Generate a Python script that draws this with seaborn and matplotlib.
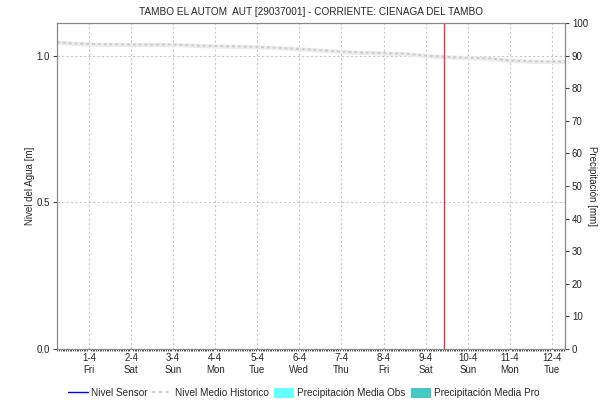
import matplotlib
matplotlib.use("Agg")
import matplotlib.dates as mdates
import matplotlib.pyplot as plt
import pandas as pd
import seaborn as sns
from matplotlib.lines import Line2D
from matplotlib.patches import Patch

sns.set_theme(style="white")
plt.rcParams["font.family"] = ["Liberation Sans", "DejaVu Sans"]

TITLE = "TAMBO EL AUTOM  AUT [29037001] - CORRIENTE: CIENAGA DEL TAMBO"

# historic mean level (m)
hist_time = [
    "2022-03-31 05:45", "2022-03-31 12:00", "2022-04-01 00:00", "2022-04-01 12:00",
    "2022-04-02 00:00", "2022-04-02 12:00", "2022-04-03 00:00", "2022-04-03 12:00",
    "2022-04-04 00:00", "2022-04-04 12:00", "2022-04-05 00:00", "2022-04-05 12:00",
    "2022-04-06 00:00", "2022-04-06 12:00", "2022-04-07 00:00", "2022-04-07 12:00",
    "2022-04-08 00:00", "2022-04-08 12:00", "2022-04-09 00:00", "2022-04-09 12:00",
    "2022-04-10 00:00", "2022-04-10 12:00", "2022-04-11 00:00", "2022-04-11 12:00",
    "2022-04-12 00:00", "2022-04-12 07:30",
]
hist_mean = [
    1.047, 1.044, 1.041, 1.040, 1.039, 1.039, 1.039, 1.036, 1.034, 1.033,
    1.031, 1.028, 1.024, 1.020, 1.015, 1.012, 1.010, 1.008, 1.001, 0.997,
    0.994, 0.992, 0.985, 0.982, 0.981, 0.981,
]
hist_upper = [
    1.055, 1.052, 1.048, 1.047, 1.046, 1.046, 1.046, 1.043, 1.041, 1.040,
    1.038, 1.035, 1.031, 1.027, 1.022, 1.019, 1.017, 1.015, 1.008, 1.004,
    1.001, 0.999, 0.992, 0.989, 0.988, 0.988,
]
hist_lower = [
    1.040, 1.037, 1.034, 1.033, 1.032, 1.032, 1.032, 1.029, 1.027, 1.026,
    1.024, 1.021, 1.017, 1.013, 1.008, 1.005, 1.003, 1.001, 0.994, 0.990,
    0.987, 0.985, 0.978, 0.975, 0.974, 0.974,
]

# sensor level: no data in this period
sensor_time = []
sensor_level = []

now_time = "2022-04-09 10:20"

day_ticks = pd.date_range("2022-04-01", "2022-04-12", freq="D")
day_labels = ["1-4\nFri", "2-4\nSat", "3-4\nSun", "4-4\nMon", "5-4\nTue", "6-4\nWed",
              "7-4\nThu", "8-4\nFri", "9-4\nSat", "10-4\nSun", "11-4\nMon", "12-4\nTue"]

hist = pd.DataFrame({"time": pd.to_datetime(hist_time), "mean": hist_mean,
                     "upper": hist_upper, "lower": hist_lower})

fig = plt.figure(figsize=(6.07, 4.03), dpi=100)
ax = fig.add_axes([57 / 607, 54 / 403, 508 / 607, 326 / 403])
ax2 = ax.twinx()

ax.fill_between(hist["time"], hist["lower"], hist["upper"], color="#ececec", lw=0, zorder=1)
sns.lineplot(data=hist, x="time", y="mean", ax=ax, color="#cccccc", lw=1.4,
             linestyle=(0, (1.5, 1.5)), zorder=2)
ax.plot(pd.to_datetime(sensor_time), sensor_level, color="#0000ff", lw=1)
ax.axvline(pd.Timestamp(now_time), color="#e8383d", lw=1, zorder=3)

ax.set_xlim(pd.Timestamp("2022-03-31 05:45"), pd.Timestamp("2022-04-12 07:30"))
ax.set_ylim(0, 1.1126)
ax.set_yticks([0.0, 0.5, 1.0])
ax.set_yticklabels(["0.0", "0.5", "1.0"])
ax.set_xticks(day_ticks)
ax.set_xticklabels(day_labels)
ax.xaxis.set_minor_locator(mdates.HourLocator())
ax.set_xlabel("")
ax.set_ylabel("Nivel del Agua [m]", fontsize=7)
ax.yaxis.set_label_coords(-22 / 508, 0.5)

ax.grid(True, axis="both", color="#c8c8c8", ls=(0, (2, 2)), lw=0.8)
ax.tick_params(axis="y", which="major", length=3, width=0.8, labelsize=7, pad=2,
               left=True, color="#444444")
ax.tick_params(axis="x", which="major", length=0, labelsize=7, pad=3)
ax.tick_params(axis="x", which="minor", length=1.5, width=0.6, bottom=True, color="#333333")

ax2.set_ylim(0, 100)
ax2.set_yticks(range(0, 101, 10))
ax2.tick_params(axis="y", length=3, width=0.8, labelsize=7, pad=2, right=True, color="#444444")
ax2.set_ylabel("Precipitación [mm]", fontsize=7, rotation=270, va="center")
ax2.yaxis.set_label_coords(1 + 27 / 508, 0.5)
ax2.grid(False)

for a in (ax, ax2):
    for s in a.spines.values():
        s.set_color("#888888")
        s.set_linewidth(0.8)

ax.set_title(TITLE, fontsize=7.2, pad=6)

handles = [
    Line2D([], [], color="#0000ff", lw=1),
    Line2D([], [], color="#c8c8c8", lw=1.2, ls=(0, (2, 2))),
    Patch(facecolor="#66ffff", edgecolor="none"),
    Patch(facecolor="#48c8c4", edgecolor="none"),
]
labels = ["Nivel Sensor", "Nivel Medio Historico", "Precipitación Media Obs",
          "Precipitación Media Pro"]
fig.legend(handles, labels, loc="center", bbox_to_anchor=(0.5, 10 / 403), ncol=4,
           frameon=False, fontsize=7.2, handlelength=2.0, handleheight=1.1,
           columnspacing=0.5, handletextpad=0.3)

fig.savefig("out.png", dpi=100)
